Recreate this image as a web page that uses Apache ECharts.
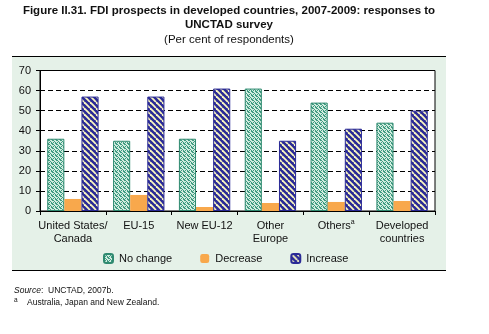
<!DOCTYPE html>
<html>
<head>
<meta charset="utf-8">
<script src="https://cdn.jsdelivr.net/npm/echarts@6/dist/echarts.min.js"></script>
<style>
  html, body { margin: 0; padding: 0; background: #fff; }
  #chart { width: 489px; height: 334px; }
</style>
</head>
<body>
<div id="chart"></div>
<script>
// Survey regions and shares of respondents (%)
const categories = ['United States/\nCanada', 'EU-15', 'New EU-12', 'Other\nEurope', 'Others', 'Developed\ncountries'];
const noChange = [36, 35, 36, 61, 54, 44];
const decrease = [6, 8, 2, 4, 4.5, 5];
const increase = [57, 57, 61, 35, 41, 50];
const yTicks = [0, 10, 20, 30, 40, 50, 60, 70];

const FONT = '"Liberation Sans", Arial, sans-serif';

// Fine mint weave used for "No change"
function weavePattern() {
  const c = document.createElement('canvas');
  c.width = 4; c.height = 4;
  const g = c.getContext('2d');
  g.fillStyle = '#d2ede0';
  g.fillRect(0, 0, 4, 4);
  g.fillStyle = '#3f9a80';
  const px = [[0,0],[1,0],[2,1],[1,2],[3,3],[3,2],[0,3]];
  px.forEach(p => g.fillRect(p[0], p[1], 1, 1));
  return c;
}

// Dark blue with pale yellow back-diagonal stripes used for "Increase"
function stripePattern() {
  const s = 6;
  const c = document.createElement('canvas');
  c.width = s; c.height = s;
  const g = c.getContext('2d');
  g.fillStyle = '#2a2a96';
  g.fillRect(0, 0, s, s);
  g.strokeStyle = '#fbf8c0';
  g.lineWidth = 1.8;
  for (let k = -s; k <= s; k += s) {
    g.beginPath();
    g.moveTo(k, 0);
    g.lineTo(k + s, s);
    g.stroke();
  }
  return c;
}

const chart = echarts.init(document.getElementById('chart'), null, { renderer: 'canvas' });

const option = {
  animation: false,
  textStyle: { fontFamily: FONT },
  graphic: [
    { type: 'rect', z: -10, shape: { x: 12, y: 57, width: 434, height: 213 }, style: { fill: '#e5f1e8' } },
    { type: 'line', shape: { x1: 12, y1: 56.5, x2: 446, y2: 56.5 }, style: { stroke: '#000', lineWidth: 1 } },
    { type: 'line', shape: { x1: 12, y1: 270.5, x2: 446, y2: 270.5 }, style: { stroke: '#000', lineWidth: 1 } },
    { type: 'text', x: 229, y: 5, style: { text: 'Figure II.31. FDI prospects in developed countries, 2007-2009: responses to', font: 'bold 11.5px ' + FONT, fill: '#111', align: 'center' } },
    { type: 'text', x: 229, y: 19, style: { text: 'UNCTAD survey', font: 'bold 11.5px ' + FONT, fill: '#111', align: 'center' } },
    { type: 'text', x: 229, y: 34, style: { text: '(Per cent of respondents)', font: '11.5px ' + FONT, fill: '#111', align: 'center' } },
    { type: 'text', x: 14, y: 286, style: { text: 'Source', font: 'italic 8.5px ' + FONT, fill: '#111' } },
    { type: 'text', x: 41, y: 286, style: { text: ':  UNCTAD, 2007b.', font: '8.5px ' + FONT, fill: '#111' } },
    { type: 'text', x: 14, y: 297, style: { text: 'a', font: '6.5px ' + FONT, fill: '#111' } },
    { type: 'text', x: 27, y: 298, style: { text: 'Australia, Japan and New Zealand.', font: '8.5px ' + FONT, fill: '#111' } }
  ],
  grid: {
    left: 40, right: 54, top: 70.5, bottom: 123,
    show: true, backgroundColor: '#fff', borderColor: '#000', borderWidth: 1
  },
  legend: {
    left: 98, top: 248,
    itemWidth: 9, itemHeight: 9, itemGap: 28,
    textStyle: { fontFamily: FONT, fontSize: 11, color: '#111', padding: [0, 0, 0, 1] },
    data: ['No change', 'Decrease', 'Increase']
  },
  xAxis: {
    type: 'category',
    data: categories,
    axisLine: { lineStyle: { color: '#000', width: 1 } },
    axisTick: { show: true, length: 4, lineStyle: { color: '#000' } },
    axisLabel: {
      color: '#111', fontSize: 11, fontFamily: FONT, margin: 8, lineHeight: 13.5, interval: 0,
      formatter: v => v === 'Others' ? 'Others{sup|a}' : v,
      rich: { sup: { fontSize: 7, verticalAlign: 'top', padding: [0, 0, 5, 0], color: '#111' } }
    }
  },
  yAxis: {
    type: 'value',
    min: 0, max: 70, interval: 10,
    axisLine: { show: true, lineStyle: { color: '#000', width: 1 } },
    axisTick: { show: true, length: 4, lineStyle: { color: '#000' } },
    axisLabel: { color: '#111', fontSize: 11, fontFamily: FONT, margin: 9, formatter: v => yTicks.includes(v) ? String(v) : '' },
    splitLine: { show: true, lineStyle: { color: '#000', type: [5, 3], width: 1 } }
  },
  series: [
    {
      name: 'No change', type: 'bar', data: noChange,
      barGap: '0%', barCategoryGap: '22%',
      itemStyle: { color: { image: weavePattern(), repeat: 'repeat' }, borderColor: '#2f8a70', borderWidth: 1 }
    },
    {
      name: 'Decrease', type: 'bar', data: decrease,
      itemStyle: { color: '#f8a84c' }
    },
    {
      name: 'Increase', type: 'bar', data: increase,
      itemStyle: { color: { image: stripePattern(), repeat: 'repeat' }, borderColor: '#2a2a96', borderWidth: 1 }
    }
  ]
};

chart.setOption(option);
</script>
</body>
</html>
